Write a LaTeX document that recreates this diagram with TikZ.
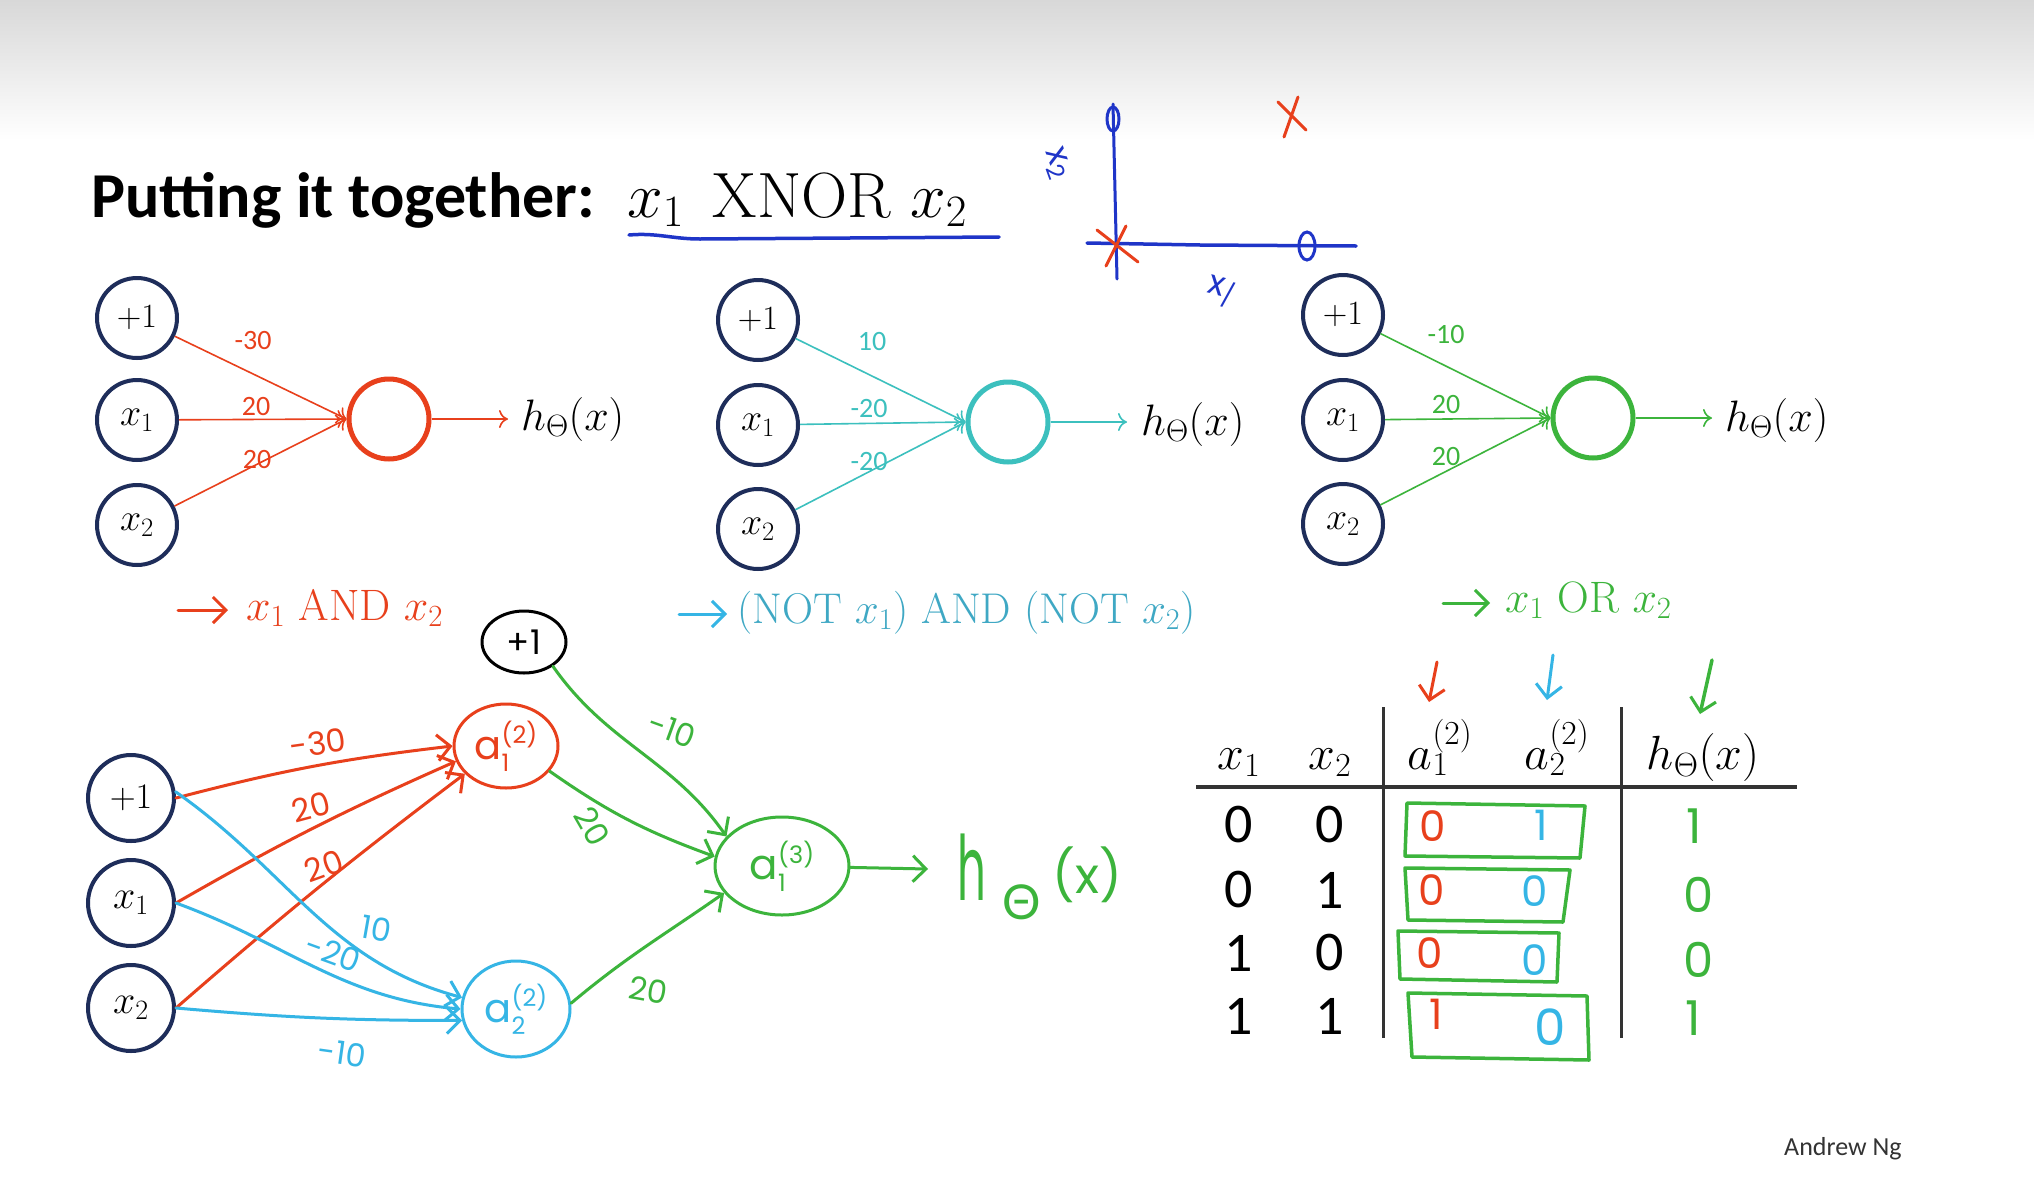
\RequirePackage{fix-cm}
\documentclass[tikz,border=0pt]{standalone}
\usepackage{fontspec}
\usetikzlibrary{arrows.meta,shapes.geometric,calc}
\newfontfamily\titlefont{Carlito}
\newfontfamily\hand{Poppins}
\newfontfamily\handgr{Lato}
\newcommand{\fsz}[1]{\fontsize{#1}{#1}\selectfont}
\definecolor{navy}{HTML}{1E2D5A}
\definecolor{nred}{HTML}{E8401C}
\definecolor{nteal}{HTML}{3CC0BE}
\definecolor{ncyan}{HTML}{35B5E5}
\definecolor{ngreen}{HTML}{3CB43C}
\definecolor{nblue}{HTML}{1F35C8}
\definecolor{tlabel}{HTML}{3FA8C4}
\definecolor{topgray}{HTML}{D8D8D8}
\definecolor{tgray}{HTML}{333333}
\begin{document}
\begin{tikzpicture}[x=1pt,y=-1pt,
  inp/.style={circle,draw=navy,line width=4pt,minimum size=80pt,inner sep=0pt,font=\fsz{38}},
  outc/.style={circle,line width=5pt,minimum size=80pt,inner sep=0pt},
  wline/.style={line width=1.6pt,-{To[length=9pt,width=18pt]}},
  wt/.style={font=\titlefont\fsz{28},inner sep=0pt},
  lbl/.style={anchor=base west,inner sep=0pt,font=\fsz{44}},
  hnode/.style={ellipse,line width=3pt,inner sep=0pt},
  hline/.style={line width=3pt,line cap=round,-{Straight Barb[length=13pt,width=26pt,line width=3pt]}},
  hwt/.style={font=\hand\fsz{32},inner sep=0pt},
  hbox/.style={draw=ngreen,line width=3.5pt,line join=round},
  tline/.style={draw=tgray,line width=3.5pt},
  cell/.style={font=\titlefont\fsz{56},inner sep=0pt},
  hcell/.style={font=\hand\fsz{42},inner sep=0pt}
]
\useasboundingbox (0,0) rectangle (2034,1178);
\fill[white] (0,0) rectangle (2034,1178);
\shade[top color=topgray,bottom color=white] (0,0) rectangle (2034,140);

% ---------- title ----------
\node[anchor=base west,inner sep=0pt,font=\titlefont\bfseries\fsz{64}] (title) at (91,217) {Putting it together:};
\node[anchor=base west,inner sep=0pt,font=\fsz{64}] (xnor) at (627,217) {$x_1$\hspace{0.45em}XNOR\hspace{0.3em}$x_2$};
\draw[nblue,line width=3.5pt,line cap=round] (629,235) to[out=5,in=180] (700,239) -- (999,237);

% ---------- axes sketch ----------
\draw[nblue,line width=3pt,line cap=round] (1113,104) -- (1117,279);
\draw[nblue,line width=3.5pt,line cap=round] (1087,243) -- (1200,245) -- (1356,246);
\draw[nblue,line width=3pt] (1113,119) ellipse [x radius=6,y radius=12];
\draw[nblue,line width=3pt] (1307,246) ellipse [x radius=8,y radius=14];
\draw[nred,line width=3pt,line cap=round] (1278,102) -- (1306,130) (1298,97) -- (1284,137);
\draw[nred,line width=3pt,line cap=round] (1097,230) -- (1138,262) (1126,226) -- (1106,266);
\node[font=\hand\fsz{34},text=nblue,rotate=-70,inner sep=0pt] (lx2) at (1057,163) {x\raisebox{-6pt}{\fsz{24}2}};
\node[font=\hand\fsz{34},text=nblue,rotate=-15,inner sep=0pt] (lx1) at (1221,292) {x\raisebox{-6pt}{\fsz{24}/}};

% ---------- network 1 (AND) ----------
\node[inp,font=\fsz{34}] (n1a) at (137,318) {$+1$};
\node[inp] (n1b) at (137,420) {$x_1$};
\node[inp] (n1c) at (137,525) {$x_2$};
\node[outc,draw=nred] (o1) at (389,419) {};
\coordinate (h1e) at (508,419);
\node[lbl,anchor=west] (h1) at (521,419) {$h_\Theta(x)$};
\draw[wline,nred] (n1a) -- (o1.west);
\draw[wline,nred] (n1b) -- (o1.west);
\draw[wline,nred] (n1c) -- (o1.west);
\draw[wline,nred] (o1) -- (h1e);
\node[wt,text=nred] (w1a) at (253,341) {-30};
\node[wt,text=nred] (w1b) at (256,407) {20};
\node[wt,text=nred] (w1c) at (257,460) {20};
\node[lbl,text=nred] (l1) at (246,620) {$x_1$ AND $x_2$};
\coordinate (l1s) at (178,610);
\coordinate (l1t) at (228,610);
\draw[hline,nred] (l1s) -- (l1t);

% ---------- network 2 (NOT AND NOT) ----------
\node[inp,font=\fsz{34}] (n2a) at (758,320) {$+1$};
\node[inp] (n2b) at (758,425) {$x_1$};
\node[inp] (n2c) at (758,529) {$x_2$};
\node[outc,draw=nteal] (o2) at (1008,422) {};
\coordinate (h2e) at (1127,422);
\node[lbl,anchor=west] (h2) at (1141,424) {$h_\Theta(x)$};
\draw[wline,nteal] (n2a) -- (o2.west);
\draw[wline,nteal] (n2b) -- (o2.west);
\draw[wline,nteal] (n2c) -- (o2.west);
\draw[wline,nteal] (o2) -- (h2e);
\node[wt,text=nteal] (w2a) at (872,342) {10};
\node[wt,text=nteal] (w2b) at (869,409) {-20};
\node[wt,text=nteal] (w2c) at (869,462) {-20};
\node[lbl,text=tlabel,font=\fsz{43}] (l2) at (737,623) {(NOT $x_1$) AND (NOT $x_2$)};
\coordinate (l2s) at (679,614);
\coordinate (l2t) at (727,614);
\draw[hline,ncyan] (l2s) -- (l2t);

% ---------- network 3 (OR) ----------
\node[inp,font=\fsz{34}] (n3a) at (1343,315) {$+1$};
\node[inp] (n3b) at (1343,420) {$x_1$};
\node[inp] (n3c) at (1343,524) {$x_2$};
\node[outc,draw=ngreen] (o3) at (1593,418) {};
\coordinate (h3e) at (1712,418);
\node[lbl,anchor=west] (h3) at (1725,420) {$h_\Theta(x)$};
\draw[wline,ngreen] (n3a) -- (o3.west);
\draw[wline,ngreen] (n3b) -- (o3.west);
\draw[wline,ngreen] (n3c) -- (o3.west);
\draw[wline,ngreen] (o3) -- (h3e);
\node[wt,text=ngreen] (w3a) at (1446,335) {-10};
\node[wt,text=ngreen] (w3b) at (1446,405) {20};
\node[wt,text=ngreen] (w3c) at (1446,457) {20};
\node[lbl,text=ngreen] (l3) at (1505,612) {$x_1$ OR $x_2$};
\coordinate (l3s) at (1443,603);
\coordinate (l3t) at (1490,603);
\draw[hline,ngreen] (l3s) -- (l3t);

% ---------- bottom network ----------
\node[inp,minimum size=86pt,font=\fsz{36}] (b1) at (131,798) {$+1$};
\node[inp,minimum size=86pt,font=\fsz{40}] (b2) at (131,903) {$x_1$};
\node[inp,minimum size=86pt,font=\fsz{40}] (b3) at (131,1008) {$x_2$};
\node[hnode,draw=black,minimum width=84pt,minimum height=62pt,font=\hand\fsz{34}] (bias) at (524,642) {+1};
\node[hnode,draw=nred,text=nred,minimum width=104pt,minimum height=84pt,font=\hand\fsz{40}] (a1) at (506,746)
  {a\rlap{\raisebox{-12pt}{\fsz{24}1}}\raisebox{16pt}{\fsz{24}(2)}};
\node[hnode,draw=ncyan,text=ncyan,minimum width=108pt,minimum height=96pt,font=\hand\fsz{40}] (a2) at (516,1009)
  {a\rlap{\raisebox{-12pt}{\fsz{24}2}}\raisebox{16pt}{\fsz{24}(2)}};
\node[hnode,draw=ngreen,text=ngreen,minimum width=134pt,minimum height=98pt,font=\hand\fsz{42}] (a3) at (782,866)
  {a\rlap{\raisebox{-12pt}{\fsz{24}1}}\raisebox{16pt}{\fsz{24}(3)}};
\coordinate (hout) at (928,869);
\node[anchor=base west,inner sep=0pt,text=ngreen,font=\hand] (h4) at (957,900)
  {\scalebox{0.5}[1]{\fsz{90}h}\hspace{16pt}\raisebox{-19pt}{\handgr\fsz{48}Θ}\hspace{12pt}\raisebox{7pt}{\fsz{50}(x)}};
% red edges
\draw[hline,nred] (b1.east) to[bend left=4] (a1.180);
\draw[hline,nred] (b2.east) to[bend left=3] (a1.197);
\draw[hline,nred] (b3.east) to[bend left=2] (a1.214);
% cyan edges
\draw[hline,ncyan] (b1.8) to[out=-35,in=165] (a2.168);
\draw[hline,ncyan] (b2.east) to[out=-20,in=175] (a2.180);
\draw[hline,ncyan] (b3.east) to[out=-5,in=180] (a2.192);
% green edges
\draw[hline,ngreen] (bias.-40) to[out=-55,in=125] (a3.152);
\draw[hline,ngreen] (a1.-30) to[out=-35,in=160] (a3.172);
\draw[hline,ngreen] (a2.6) to[out=40,in=215] (a3.205);
\draw[hline,ngreen] (a3) -- (hout);
% weights
\node[hwt,text=nred,rotate=8] (v1) at (318,743) {-30};
\node[hwt,text=nred,rotate=15] (v2) at (311,807) {20};
\node[hwt,text=nred,rotate=20] (v3) at (324,866) {20};
\node[hwt,text=ncyan,rotate=-10] (v4) at (376,929) {10};
\node[hwt,text=ncyan,rotate=-20] (v5) at (333,953) {-20};
\node[hwt,text=ncyan,rotate=-8] (v6) at (342,1053) {-10};
\node[hwt,text=ngreen,rotate=-20] (v7) at (672,730) {-10};
\node[hwt,text=ngreen,rotate=-60] (v8) at (592,826) {20};
\node[hwt,text=ngreen,rotate=-10] (v9) at (648,990) {20};

% ---------- table ----------
\node[anchor=base,inner sep=0pt,font=\fsz{48}] (t1) at (1239,769) {$x_1$};
\node[anchor=base,inner sep=0pt,font=\fsz{48}] (t2) at (1330,769) {$x_2$};
\node[anchor=base,inner sep=0pt,font=\fsz{48}] (t3) at (1440,769) {$a_1^{(2)}$};
\node[anchor=base,inner sep=0pt,font=\fsz{48}] (t4) at (1557,769) {$a_2^{(2)}$};
\node[anchor=base,inner sep=0pt,font=\fsz{48}] (t5) at (1703,769) {$h_\Theta(x)$};
\draw[tline] (1196,787) -- (1797,787);
\draw[tline,line width=3pt] (1383,707) -- (1383,1038);
\draw[tline,line width=3pt] (1621,707) -- (1621,1038);
\node[cell] (r1a) at (1239,825) {0}; \node[cell] (r1b) at (1330,825) {0};
\node[cell] (r2a) at (1239,890) {0}; \node[cell] (r2b) at (1330,890) {1};
\node[cell] (r3a) at (1239,953) {1}; \node[cell] (r3b) at (1330,953) {0};
\node[cell] (r4a) at (1239,1016) {1}; \node[cell] (r4b) at (1330,1016) {1};
% green boxes
\draw[hbox] (1407,803) -- (1585,806) -- (1580,858) -- (1405,856) -- cycle;
\draw[hbox] (1405,868) -- (1570,870) -- (1563,922) -- (1408,920) -- cycle;
\draw[hbox] (1398,931) -- (1559,933) -- (1557,982) -- (1400,979) -- cycle;
\draw[hbox] (1408,993) -- (1587,996) -- (1589,1060) -- (1412,1057) -- cycle;
% hand values
\node[hcell,text=nred] (c1a) at (1433,826) {0}; \node[hcell,text=ncyan] (c1b) at (1541,825) {1};
\node[hcell,text=nred] (c2a) at (1432,890) {0}; \node[hcell,text=ncyan] (c2b) at (1535,891) {0};
\node[hcell,text=nred] (c3a) at (1430,953) {0}; \node[hcell,text=ncyan] (c3b) at (1535,960) {0};
\node[hcell,text=nred] (c4a) at (1436,1014) {1}; \node[hcell,text=ncyan,font=\hand\fsz{50}] (c4b) at (1550,1027) {0};
\node[hcell,text=ngreen,font=\hand\fsz{48}] (g1) at (1694,826) {1};
\node[hcell,text=ngreen,font=\hand\fsz{48}] (g2) at (1699,895) {0};
\node[hcell,text=ngreen,font=\hand\fsz{48}] (g3) at (1699,960) {0};
\node[hcell,text=ngreen,font=\hand\fsz{48}] (g4) at (1693,1018) {1};
% column arrows
\coordinate (ar1s) at (1437,662); \coordinate (ar1t) at (1429,702);
\coordinate (ar2s) at (1553,655); \coordinate (ar2t) at (1547,700);
\coordinate (ar3s) at (1712,660); \coordinate (ar3t) at (1700,714);
\draw[hline,nred] (ar1s) -- (ar1t);
\draw[hline,ncyan] (ar2s) -- (ar2t);
\draw[hline,ngreen,line width=3.5pt] (ar3s) -- (ar3t);

% ---------- footer ----------
\node[anchor=base west,inner sep=0pt,text=tgray,font=\titlefont\fsz{26}] (ng) at (1784,1155) {Andrew Ng};
\end{tikzpicture}
\end{document}
